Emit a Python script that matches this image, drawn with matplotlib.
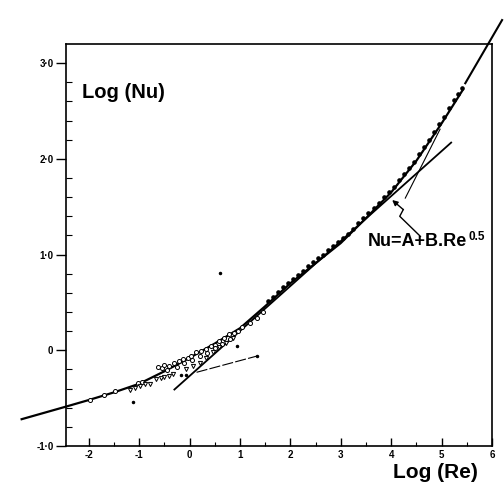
import matplotlib
matplotlib.use("Agg")
import matplotlib.pyplot as plt

plt.rcParams['font.family'] = ['Liberation Sans', 'DejaVu Sans']

# main fitted curve, log(Re) vs log(Nu)
curve_x = [-3.33, -2.46, -2.0, -1.5, -1.0, -0.5, 0.0, 0.5, 1.0, 1.5, 2.0, 2.5,
           3.0, 3.5, 4.0, 4.5, 5.0, 5.42]
curve_y = [-0.72, -0.59, -0.52, -0.44, -0.35, -0.22, -0.08, 0.07, 0.23, 0.46,
           0.70, 0.91, 1.12, 1.38, 1.65, 1.98, 2.37, 2.72]

# high-Re continuation
upper_x = [5.47, 6.2]
upper_y = [2.79, 3.45]

# Nu = A + B.Re^0.5 line
half_x = [-0.30, 5.19]
half_y = [-0.41, 2.17]

# thin steep line near the top
steep_x = [4.28, 4.97]
steep_y = [1.59, 2.31]

# thin dashed low-Re line
low_x = [0.14, 1.34]
low_y = [-0.23, -0.06]

# open circles
circ_x = [-1.98, -1.70, -1.48, -1.02, -0.95, -0.62, -0.55, -0.50, -0.40, -0.30,
          -0.20, -0.13, -0.03, 0.03, 0.13, 0.23, 0.33, 0.43, 0.50, 0.59, 0.69,
          0.79, 0.89, 0.96, 1.05, 1.19, 1.33, 1.45,
          -0.45, -0.25, -0.10, 0.05, 0.20, 0.35, 0.50, 0.65, 0.80]
circ_y = [-0.52, -0.47, -0.43, -0.34, -0.33, -0.17, -0.18, -0.15, -0.16, -0.13,
          -0.11, -0.09, -0.08, -0.06, -0.02, -0.01, 0.01, 0.05, 0.06, 0.10, 0.13,
          0.17, 0.18, 0.20, 0.24, 0.29, 0.34, 0.40,
          -0.21, -0.17, -0.13, -0.10, -0.06, -0.03, 0.02, 0.07, 0.12]

# open down triangles
tri_x = [-1.19, -1.09, -0.99, -0.89, -0.79, -0.66, -0.56, -0.50, -0.40, -0.33,
         -0.07, 0.07, 0.20, 0.33, 0.46, 0.59, 0.73, 0.86]
tri_y = [-0.41, -0.39, -0.37, -0.355, -0.355, -0.30, -0.285, -0.275, -0.27, -0.25,
         -0.20, -0.16, -0.13, -0.08, -0.02, 0.03, 0.08, 0.13]

# filled points, high Re
dot_x = [1.55, 1.65, 1.75, 1.85, 1.95, 2.05, 2.15, 2.25, 2.35, 2.45, 2.55, 2.65,
         2.75, 2.85, 2.95, 3.05, 3.15, 3.25, 3.35, 3.45, 3.55, 3.65, 3.75, 3.85,
         3.95, 4.05, 4.15, 4.25, 4.35, 4.45, 4.55, 4.65, 4.75, 4.85, 4.95, 5.05,
         5.15, 5.25, 5.33, 5.4]
dot_y = [0.51, 0.56, 0.61, 0.66, 0.70, 0.75, 0.79, 0.83, 0.88, 0.92, 0.96, 1.00,
         1.05, 1.09, 1.13, 1.17, 1.22, 1.27, 1.33, 1.38, 1.43, 1.49, 1.54, 1.60,
         1.65, 1.71, 1.78, 1.84, 1.90, 1.97, 2.05, 2.12, 2.20, 2.28, 2.36, 2.44,
         2.53, 2.61, 2.68, 2.74]

# stray specks
speck_x = [-1.13, 0.61, 0.95, -0.16, -0.07, 1.34]
speck_y = [-0.54, 0.81, 0.04, -0.26, -0.26, -0.06]

# arrow path from label to the line
arrow_x = [4.58, 4.17, 4.24]
arrow_y = [1.19, 1.40, 1.47]
arrow_tip = (4.02, 1.57)

yticks = [-1.0, 0.0, 1.0, 2.0, 3.0]
yticklabels = ['-1·0', '0', '1·0', '2·0', '3·0']
xticks = [-2, -1, 0, 1, 2, 3, 4, 5, 6]

fig = plt.figure(figsize=(5.04, 4.83), dpi=100)
ax = fig.add_axes([66 / 504, 37 / 483, 426 / 504, 402 / 483])

ax.plot(curve_x, curve_y, color='black', lw=1.6, clip_on=False, zorder=3)
ax.plot(upper_x, upper_y, color='black', lw=1.5, clip_on=False, zorder=3)
ax.plot(half_x, half_y, color='black', lw=1.3, zorder=3)
ax.plot(steep_x, steep_y, color='black', lw=0.8, zorder=3)
ax.plot(low_x, low_y, color='black', lw=0.8, linestyle=(0, (10, 2)), zorder=3)

ax.plot(circ_x, circ_y, 'o', ms=2.9, mfc='white', mec='black', mew=0.7, zorder=4)
ax.plot(tri_x, tri_y, 'v', ms=3.0, mfc='white', mec='black', mew=0.7, zorder=4)
ax.plot(dot_x, dot_y, 'o', ms=2.3, color='black', zorder=4)
ax.plot(speck_x, speck_y, 'o', ms=1.5, color='black', zorder=4)

ax.plot(arrow_x, arrow_y, color='black', lw=1.0, zorder=3)
ax.annotate('', xy=arrow_tip, xytext=(arrow_x[-1], arrow_y[-1]),
            arrowprops=dict(arrowstyle='-|>', color='black', lw=1.0,
                            mutation_scale=8, shrinkA=0, shrinkB=0))

ax.set_xlim(-2.45, 6.0)
ax.set_ylim(-1.0, 3.2)

ax.set_xticks(xticks)
ax.set_xticklabels([str(t) for t in xticks], fontsize=7, fontweight='bold')
ax.set_xticks([t + 0.5 for t in xticks[:-1]], minor=True)
ax.set_yticks(yticks)
ax.set_yticklabels(yticklabels, fontsize=7, fontweight='bold')
ax.set_yticks([v / 5 for v in range(-5, 16) if v % 5 != 0], minor=True)

ax.tick_params(axis='x', which='major', direction='in', length=6, width=1.0, pad=3)
ax.tick_params(axis='x', which='minor', direction='in', length=3, width=0.8)
ax.tick_params(axis='y', which='major', direction='out', length=7, width=1.0, pad=2)
ax.tick_params(axis='y', which='minor', direction='in', length=4, width=0.8)

for side in ax.spines.values():
    side.set_linewidth(1.2)

fig.text(82 / 504, 1 - 92 / 483, 'Log (Nu)', fontsize=14.5, fontweight='bold',
         va='center', ha='left')
fig.text(393 / 504, 1 - 472 / 483, 'Log (Re)', fontsize=15, fontweight='bold',
         va='center', ha='left')
eq = fig.text(368 / 504, 1 - 241 / 483, 'Nu=A+B.Re', fontsize=13, fontweight='bold',
              va='center', ha='left')
fig.canvas.draw()
bb = eq.get_window_extent().transformed(fig.transFigure.inverted())
fig.text(bb.x1 + 0.002, bb.y1 - 0.010, '0.5', fontsize=8.5, fontweight='bold',
         va='center', ha='left')

fig.savefig('out.png', dpi=100)
